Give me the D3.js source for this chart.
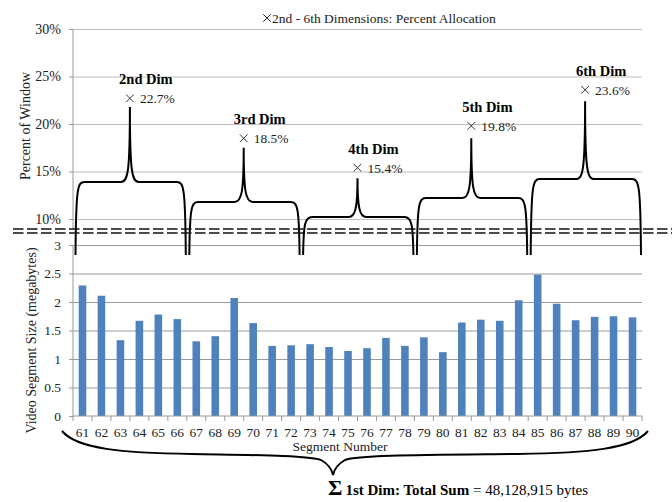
<!DOCTYPE html>
<html>
<head>
<meta charset="utf-8">
<script src="https://cdn.jsdelivr.net/npm/d3@7"></script>
<style>
body { margin: 0; background: #fff; }
text { font-family: "Liberation Serif", "Times New Roman", serif; }
</style>
</head>
<body>
<svg id="chart" width="672" height="502"></svg>
<script>
// data
const segments = [61, 62, 63, 64, 65, 66, 67, 68, 69, 70, 71, 72, 73, 74, 75, 76, 77, 78, 79, 80, 81, 82, 83, 84, 85, 86, 87, 88, 89, 90];
const segment_mb = [2.29, 2.11, 1.33, 1.67, 1.78, 1.70, 1.31, 1.40, 2.07, 1.63, 1.23, 1.24, 1.26, 1.21, 1.14, 1.19, 1.37, 1.23, 1.38, 1.12, 1.64, 1.69, 1.67, 2.03, 2.48, 1.97, 1.68, 1.74, 1.75, 1.73];
const dim_names = ["2nd Dim", "3rd Dim", "4th Dim", "5th Dim", "6th Dim"];
const dim_percent = [22.7, 18.5, 15.4, 19.8, 23.6];
const brace_flat = [13.9, 11.8, 10.2, 12.2, 14.2];
const brace_peak = [21.8, 17.5, 14.3, 18.5, 22.4];
const pct_ticks = [10, 15, 20, 25, 30];
const mb_ticks = [0, 0.5, 1, 1.5, 2, 2.5, 3];
const per_dim = 6;

const serif = "Liberation Serif";
const svg = d3.select("#chart");
const left = 73, right = 642;

const x = d3.scaleBand().domain(segments).range([left, right]).paddingInner(0.6).paddingOuter(0.3);
const edge = i => left + i * x.step();
const y_pct = d3.scaleLinear().domain([10, 30]).range([219, 29]);
const y_mb = d3.scaleLinear().domain([0, 3]).range([416, 245]);

// ---- top chart: percent of window ----
const top_g = svg.append("g");
top_g.append("g")
	.attr("transform", `translate(${left},0)`)
	.call(d3.axisLeft(y_pct).tickValues(pct_ticks).tickSize(-(right - left)).tickFormat(""))
	.call(g => g.select(".domain").remove())
	.call(g => g.selectAll("line").attr("stroke", "#bdbdbd"));
top_g.append("g")
	.attr("transform", `translate(${left},0)`)
	.call(d3.axisLeft(y_pct).tickValues(pct_ticks).tickSize(4).tickPadding(8).tickFormat(d => d + "%"))
	.attr("font-family", serif).attr("font-size", 14)
	.call(g => g.select(".domain").attr("d", `M0,${y_pct(30)}V${y_pct(8.9)}`).attr("stroke", "#999"))
	.call(g => g.selectAll("line").attr("stroke", "#999"))
	.call(g => g.selectAll("text").attr("fill", "#222"));

top_g.append("text")
	.attr("transform", `translate(30,${(y_pct(30) + y_pct(10)) / 2 + 2}) rotate(-90)`)
	.attr("text-anchor", "middle")
	.style("font-size", "14px").attr("fill", "#222")
	.text("Percent of Window");

// ---- bottom chart: segment sizes ----
const bot_g = svg.append("g");
bot_g.append("g")
	.attr("transform", `translate(${left},0)`)
	.call(d3.axisLeft(y_mb).tickValues(mb_ticks.slice(1)).tickSize(-(right - left)).tickFormat(""))
	.call(g => g.select(".domain").remove())
	.call(g => g.selectAll("line").attr("stroke", "#9a9a9a"));
bot_g.append("g")
	.attr("transform", `translate(${left},0)`)
	.call(d3.axisLeft(y_mb).tickValues(mb_ticks).tickSize(4).tickPadding(8).tickFormat(d3.format("")))
	.attr("font-family", serif).attr("font-size", 13.5)
	.call(g => g.select(".domain").attr("d", `M0,${y_mb(3)}V${y_mb(0)}`).attr("stroke", "#999"))
	.call(g => g.selectAll("line").attr("stroke", "#999"))
	.call(g => g.selectAll("text").attr("fill", "#222"));

bot_g.selectAll("rect.bar")
	.data(segment_mb)
	.enter()
	.append("rect")
	.attr("class", "bar")
	.attr("x", (d, i) => x(segments[i]))
	.attr("width", x.bandwidth())
	.attr("y", d => y_mb(d))
	.attr("height", d => y_mb(0) - y_mb(d))
	.style("fill", "#4f81bd");

// x axis: ticks between bars, labels centred under them
const x_axis = bot_g.append("g").attr("transform", `translate(0,${y_mb(0)})`);
x_axis.append("line").attr("x1", left).attr("x2", right).attr("stroke", "#999");
x_axis.selectAll("line.tick")
	.data(d3.range(segments.length + 1))
	.enter()
	.append("line")
	.attr("x1", i => edge(i)).attr("x2", i => edge(i))
	.attr("y1", 0).attr("y2", 5)
	.attr("stroke", "#999");
x_axis.selectAll("text")
	.data(segments)
	.enter()
	.append("text")
	.attr("x", d => x(d) + x.bandwidth() / 2)
	.attr("y", 21)
	.attr("text-anchor", "middle")
	.style("font-size", "13.5px").attr("fill", "#222")
	.text(d => d);

svg.append("text")
	.attr("x", 340).attr("y", 451)
	.attr("text-anchor", "middle")
	.style("font-size", "13.5px").attr("fill", "#222")
	.text("Segment Number");

svg.append("text")
	.attr("transform", `translate(36,${(y_mb(3) + y_mb(0)) / 2 + 10}) rotate(-90)`)
	.attr("text-anchor", "middle")
	.style("font-size", "14px").attr("fill", "#222")
	.text("Video Segment Size (megabytes)");

// ---- braces over each group of six segments ----
function groupBrace(g) {
	const xl = edge(g * per_dim) + 2.5;
	const xr = edge((g + 1) * per_dim) - 1;
	const xm = edge(g * per_dim + per_dim / 2);
	const yb = y_pct(6.2), yf = y_pct(brace_flat[g]), yp = y_pct(brace_peak[g]);
	const p = d3.path();
	p.moveTo(xl, yb);
	p.bezierCurveTo(xl + 0.5, yf + 6, xl + 2, yf, xl + 9, yf);
	p.lineTo(xm - 9, yf);
	p.bezierCurveTo(xm - 2, yf, xm, yf - 10, xm, yp);
	p.bezierCurveTo(xm, yf - 10, xm + 2, yf, xm + 9, yf);
	p.lineTo(xr - 9, yf);
	p.bezierCurveTo(xr - 2, yf, xr - 0.5, yf + 6, xr, yb);
	return p.toString();
}

svg.selectAll("path.brace")
	.data(dim_names)
	.enter()
	.append("path")
	.attr("class", "brace")
	.attr("d", (d, i) => groupBrace(i))
	.attr("fill", "none")
	.attr("stroke", "#000")
	.attr("stroke-width", 2);

// dashed break between the two charts
[229, 233].forEach(yy => {
	svg.append("line")
		.attr("x1", 13).attr("x2", 672)
		.attr("y1", yy).attr("y2", yy)
		.attr("stroke", "#111").attr("stroke-width", 1.6)
		.attr("stroke-dasharray", "10.5,3.5");
});

// markers and labels
const cross = d3.symbol().type(d3.symbolTimes).size(40);
const marks = svg.selectAll("g.mark")
	.data(dim_percent)
	.enter()
	.append("g")
	.attr("class", "mark")
	.attr("transform", (d, i) => `translate(${edge(i * per_dim + per_dim / 2)},${y_pct(d)})`);
marks.append("path").attr("d", cross).attr("fill", "none").attr("stroke", "#333").attr("stroke-width", 1);
marks.append("text")
	.attr("x", 10).attr("y", 5)
	.style("font-size", "13.5px").attr("fill", "#222")
	.text(d => d3.format(".1f")(d) + "%");
marks.append("text")
	.attr("x", 16).attr("y", -14)
	.attr("text-anchor", "middle")
	.style("font-size", "14.5px").style("font-weight", "bold").attr("fill", "#000")
	.text((d, i) => dim_names[i]);

// legend
const legend = svg.append("g").attr("transform", "translate(267,18)");
legend.append("path").attr("d", cross).attr("fill", "none").attr("stroke", "#333").attr("stroke-width", 1);
legend.append("text")
	.attr("x", 5).attr("y", 4.5)
	.style("font-size", "13.5px").attr("fill", "#222")
	.text("2nd - 6th Dimensions: Percent Allocation");

// big brace under the x axis and the total
const bl = left - 11, br = right + 6, bt = 431, tipx = bl + (br - bl) * 0.4625, tipy = 475;
const bp = d3.path();
bp.moveTo(bl, bt);
bp.bezierCurveTo(bl + 15, bt + 18, bl + 60, bt + 22, bl + 130, bt + 23);
bp.bezierCurveTo(tipx - 90, bt + 24, tipx - 25, bt + 24, tipx - 12, bt + 29);
bp.bezierCurveTo(tipx - 5, bt + 33, tipx - 1, tipy - 5, tipx, tipy);
bp.bezierCurveTo(tipx + 1, tipy - 5, tipx + 5, bt + 33, tipx + 12, bt + 29);
bp.bezierCurveTo(tipx + 25, bt + 24, tipx + 90, bt + 24, br - 130, bt + 23);
bp.bezierCurveTo(br - 60, bt + 22, br - 15, bt + 18, br, bt);
svg.append("path").attr("d", bp.toString()).attr("fill", "none").attr("stroke", "#000").attr("stroke-width", 2);

const total = svg.append("text").attr("x", tipx - 5).attr("y", 495).attr("fill", "#000");
total.append("tspan").style("font-size", "22px").style("font-weight", "bold").text("Σ");
total.append("tspan").attr("dx", 3).style("font-size", "15px").style("font-weight", "bold").text("1st Dim: Total Sum");
total.append("tspan").style("font-size", "15px").text(" = 48,128,915 bytes");
</script>
</body>
</html>
